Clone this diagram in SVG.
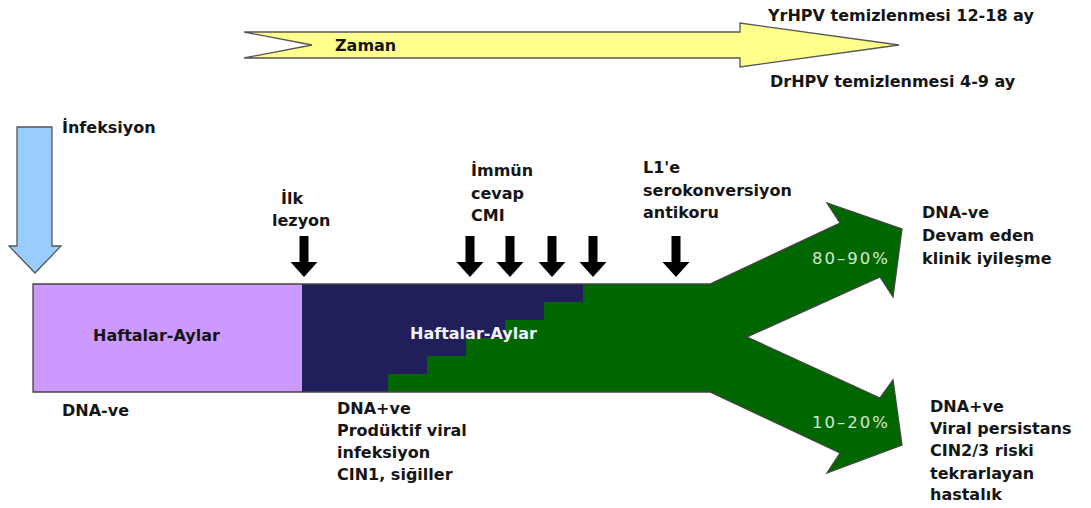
<svg xmlns="http://www.w3.org/2000/svg" width="1091" height="508" viewBox="0 0 1091 508">
<style>
.t{font-family:"DejaVu Sans","Liberation Sans",sans-serif;font-weight:700;font-size:16px;fill:#151515}
.w{fill:#f2f2ff}
.p{font-family:"DejaVu Sans","Liberation Sans",sans-serif;font-size:16.5px;letter-spacing:2px;fill:#d3e8d3}
.ol{fill:none;stroke:#444;stroke-width:1.3;stroke-linejoin:miter}
</style>
<defs>
<path id="down" d="M-4.5,0 H4.5 V26 H13.5 L0,41 L-13.5,26 H-4.5 Z" fill="#000"/>
</defs>
<rect width="1091" height="508" fill="#fff"/>

<g id="zaman">
<polygon points="244,32 740,32 740,23 899,45 740,67 740,58 244,58 312,45" fill="#ffff8c" stroke="#555" stroke-width="1.3"/>
<text class="t" x="335" y="51">Zaman</text>
</g>
<g id="yrhpv"><text class="t" x="768" y="21">YrHPV temizlenmesi 12-18 ay</text></g>
<g id="drhpv"><text class="t" x="770" y="87">DrHPV temizlenmesi 4-9 ay</text></g>

<g id="infeksiyon">
<polygon points="17,127 52,127 52,246 61,246 35,273 9,246 17,246" fill="#99ccff" stroke="#555" stroke-width="1.3"/>
<text class="t" x="62" y="133">İnfeksiyon</text>
</g>

<g id="bar">
<rect x="33" y="284" width="269" height="108" fill="#cc99ff"/>
<rect x="302" y="284" width="281" height="108" fill="#201f5a"/>
<path d="M583,284 H710 L840,223 L827,203 L902,229 L893,297 L880,277 L747,337 L880,398 L893,380 L902,445 L827,473 L840,453 L710,392 H388 V374 H427 V356 H466 V338 H505 V320 H544 V302 H583 Z" fill="#006600"/>
<path class="ol" d="M33,284 H710 L840,223 L827,203 L902,229 L893,297 L880,277 L747,337 L880,398 L893,380 L902,445 L827,473 L840,453 L710,392 H33 Z"/>
<text class="t" x="93" y="341">Haftalar-Aylar</text>
<text class="t w" x="410" y="339">Haftalar-Aylar</text>
<text class="p" x="812" y="264">80–90%</text>
<text class="p" x="812" y="428">10–20%</text>
</g>

<g id="connectors">
<use href="#down" x="304" y="236"/>
<use href="#down" x="470" y="236"/>
<use href="#down" x="510" y="236"/>
<use href="#down" x="552" y="236"/>
<use href="#down" x="593" y="236"/>
<use href="#down" x="676" y="236"/>
</g>

<g id="ilk-lezyon">
<text class="t" x="281" y="204">İlk</text>
<text class="t" x="272" y="226">lezyon</text>
</g>
<g id="immun">
<text class="t" x="471" y="176">İmmün</text>
<text class="t" x="471" y="199">cevap</text>
<text class="t" x="471" y="221">CMI</text>
</g>
<g id="l1">
<text class="t" x="643" y="173">L1'e</text>
<text class="t" x="643" y="196">serokonversiyon</text>
<text class="t" x="643" y="218">antikoru</text>
</g>
<g id="dna-neg">
<text class="t" x="62" y="416">DNA-ve</text>
</g>
<g id="dna-pos">
<text class="t" x="337" y="414">DNA+ve</text>
<text class="t" x="337" y="436">Prodüktif viral</text>
<text class="t" x="337" y="458">infeksiyon</text>
<text class="t" x="337" y="480">CIN1, siğiller</text>
</g>
<g id="out-top">
<text class="t" x="922" y="218">DNA-ve</text>
<text class="t" x="922" y="241">Devam eden</text>
<text class="t" x="922" y="264">klinik iyileşme</text>
</g>
<g id="out-bottom">
<text class="t" x="930" y="412">DNA+ve</text>
<text class="t" x="930" y="434">Viral persistans</text>
<text class="t" x="930" y="456">CIN2/3 riski</text>
<text class="t" x="930" y="479">tekrarlayan</text>
<text class="t" x="930" y="500">hastalık</text>
</g>
<g id="page"><text x="448" y="518" style="font-family:'Liberation Sans',sans-serif;font-size:15px;fill:#111">48</text></g>
</svg>
